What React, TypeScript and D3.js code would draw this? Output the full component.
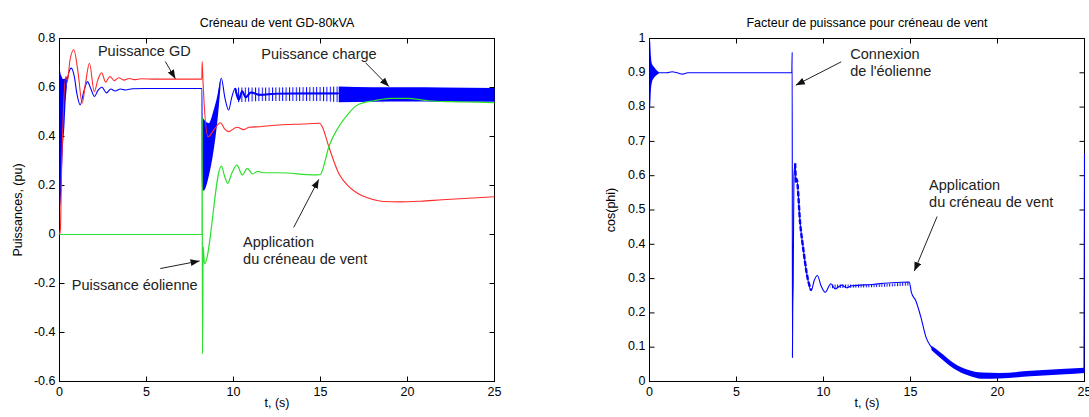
import React from 'react';
import * as d3 from 'd3';

// ---------- ticks ----------
const T_TICKS = [0, 5, 10, 15, 20, 25];
const T_TICK_LABELS = ['0', '5', '10', '15', '20', '25'];
const P_TICKS = [-0.6, -0.4, -0.2, 0, 0.2, 0.4, 0.6, 0.8];
const P_TICK_LABELS = ['-0.6', '-0.4', '-0.2', '0', '0.2', '0.4', '0.6', '0.8'];
const C_TICKS = [0, 0.1, 0.2, 0.3, 0.4, 0.5, 0.6, 0.7, 0.8, 0.9, 1];
const C_TICK_LABELS = ['0', '0.1', '0.2', '0.3', '0.4', '0.5', '0.6', '0.7', '0.8', '0.9', '1'];

// ---------- left chart: powers (pu) vs t (s) ----------
// Puissance GD (red)
const gdPower: [number, number][] = [
  [0, 0], [0.05, 0.02], [0.13, 0.297], [0.22, 0.501], [0.36, 0.645], [0.47, 0.63], [0.59, 0.706],
  [0.82, 0.754], [1.07, 0.66], [1.3, 0.536], [1.5, 0.62], [1.72, 0.699], [2.0, 0.583], [2.2, 0.63],
  [2.42, 0.66], [2.65, 0.622], [2.9, 0.645], [3.15, 0.628], [3.4, 0.64], [3.7, 0.63], [4.0, 0.637],
  [4.3, 0.632], [4.7, 0.636], [5.5, 0.634], [8.18, 0.634], [8.2, 0.706], [8.25, 0.62], [8.54, 0.399],
  [8.9, 0.43], [9.25, 0.456], [9.5, 0.43], [9.72, 0.42], [10.2, 0.438], [10.6, 0.428], [10.9, 0.438],
  [11.5, 0.44], [12.6, 0.447], [14.0, 0.451], [14.95, 0.454], [15.1, 0.44], [15.48, 0.358],
  [16.05, 0.249], [16.63, 0.195], [17.2, 0.165], [17.7, 0.15], [18.6, 0.135], [19.6, 0.133],
  [20.75, 0.136], [22, 0.142], [23.5, 0.148], [25, 0.154],
];
// Puissance charge (blue) main trace
const loadPower: [number, number][] = [
  [0.42, 0.62], [0.55, 0.665], [0.68, 0.679], [0.85, 0.645], [1.0, 0.575], [1.19, 0.529], [1.4, 0.585],
  [1.61, 0.624], [1.8, 0.595], [2.01, 0.563], [2.2, 0.587], [2.44, 0.601], [2.7, 0.578], [2.95, 0.594],
  [3.2, 0.586], [3.5, 0.594], [3.8, 0.59], [4.2, 0.595], [5, 0.596], [8.19, 0.596], [8.2, 0.19],
  [8.6, 0.3], [9.0, 0.48], [9.3, 0.638], [9.5, 0.56], [9.72, 0.508], [9.9, 0.56], [10.1, 0.597],
  [10.3, 0.55], [10.5, 0.585], [10.7, 0.56], [11.0, 0.58], [11.5, 0.57], [12.5, 0.575], [14, 0.576],
  [16, 0.576], [25, 0.573],
];
// envelopes [t, low, high] of the fast oscillations of the load power
const loadBandStart: [number, number, number][] = [
  [0, 0.11, 0.72], [0.05, 0.12, 0.66], [0.12, 0.22, 0.645], [0.2, 0.36, 0.635], [0.28, 0.44, 0.635],
  [0.35, 0.54, 0.64], [0.42, 0.6, 0.645],
];
const loadBandConnect: [number, number, number][] = [
  [8.2, 0.18, 0.48], [8.29, 0.18, 0.47], [8.57, 0.236, 0.454], [8.86, 0.345, 0.508],
  [9.06, 0.454, 0.563], [9.25, 0.6, 0.64],
];
const loadRipple: [number, number, number][] = [
  [10.2, 0.54, 0.6], [12, 0.545, 0.6], [15, 0.545, 0.602], [16.05, 0.54, 0.604],
];
const loadBandSteady: [number, number, number][] = [
  [16.05, 0.54, 0.604], [18, 0.542, 0.601], [20, 0.543, 0.601], [22, 0.542, 0.6], [25, 0.542, 0.598],
];
// Puissance éolienne (green)
const windPower: [number, number][] = [
  [0, 0], [8.19, 0], [8.2, 0.48], [8.215, -0.487], [8.26, -0.05], [8.33, -0.12], [9.3, 0.279],
  [9.5, 0.235], [9.67, 0.209], [9.9, 0.25], [10.2, 0.283], [10.5, 0.243], [10.8, 0.27], [11.1, 0.247],
  [11.4, 0.258], [11.7, 0.252], [12.6, 0.252], [14.7, 0.243], [15.0, 0.245], [15.1, 0.26],
  [15.48, 0.358], [16.05, 0.44], [16.63, 0.495], [17.0, 0.523], [17.6, 0.54], [18.07, 0.546],
  [19.0, 0.556], [20.0, 0.556], [21.2, 0.546], [22.5, 0.542], [24.0, 0.54], [25, 0.538],
];

// ---------- right chart: cos(phi) vs t ----------
const cosPhi: [number, number][] = [
  [0.55, 0.9], [1.0, 0.9], [1.3, 0.903], [1.6, 0.9], [1.9, 0.896], [2.2, 0.9], [8.18, 0.9], [8.2, 0.96],
  [8.215, 0.07], [8.23, 0.2], [8.26, 0.29], [8.3, 0.6], [8.37, 0.636], [8.42, 0.58], [8.46, 0.59],
  [8.66, 0.46], [8.85, 0.382], [9.04, 0.314], [9.29, 0.265], [9.47, 0.295], [9.65, 0.309], [9.85, 0.28],
  [10.1, 0.26], [10.42, 0.285], [10.67, 0.27], [11.05, 0.281], [11.34, 0.273], [11.63, 0.279],
  [12.8, 0.283], [13.9, 0.288], [14.93, 0.29], [15.05, 0.26], [15.3, 0.236], [15.6, 0.187],
  [15.9, 0.128], [16.2, 0.1], [16.67, 0.079], [17.48, 0.046], [18.29, 0.026], [19.1, 0.017],
  [20.1, 0.017], [21.9, 0.023], [23.9, 0.029], [24.97, 0.033], [25, 0.665],
];
const cosPhiBandStart: [number, number, number][] = [
  [0, 0.78, 1.0], [0.04, 0.8, 0.99], [0.08, 0.85, 0.95], [0.15, 0.875, 0.925], [0.25, 0.885, 0.918],
  [0.4, 0.893, 0.908], [0.55, 0.899, 0.901],
];
const cosPhiRipple: [number, number, number][] = [
  [10.4, 0.272, 0.283], [12.8, 0.275, 0.283], [14.93, 0.28, 0.29],
];
const cosPhiBandEnd: [number, number, number][] = [
  [16.2, 0.092, 0.104], [16.67, 0.071, 0.087], [17.48, 0.038, 0.054], [18.29, 0.018, 0.034],
  [19.1, 0.008, 0.026], [20.1, 0.009, 0.025], [21.9, 0.015, 0.031], [23.9, 0.021, 0.037],
  [25, 0.025, 0.04],
];

// ---------- annotations (data coordinates) ----------
type Note = { lines: string[]; tx: number; ty: number; from: [number, number]; to: [number, number] };
const leftNotes: Note[] = [
  { lines: ['Puissance GD'], tx: 2.21, ty: 0.743, from: [6.08, 0.706], to: [6.66, 0.636] },
  { lines: ['Puissance charge'], tx: 11.6, ty: 0.732, from: [17.59, 0.701], to: [18.93, 0.604] },
  { lines: ['Application', 'du créneau de vent'], tx: 10.55, ty: -0.034, from: [13.46, 0.029], to: [14.9, 0.225] },
  { lines: ['Puissance éolienne'], tx: 0.71, ty: -0.211, from: [5.79, -0.139], to: [8.05, -0.108] },
];
const rightNotes: Note[] = [
  { lines: ['Connexion', "de l'éolienne"], tx: 11.54, ty: 0.952, from: [11.02, 0.932], to: [8.41, 0.864] },
  { lines: ['Application', 'du créneau de vent'], tx: 16.07, ty: 0.569, from: [16.53, 0.481], to: [15.22, 0.322] },
];

const FONT = "'Liberation Sans', Arial, Helvetica, sans-serif";
const RED = '#ff2a2a';
const GREEN = '#2ee02e';
const BLUE = '#0000ff';

type Scale = d3.ScaleLinear<number, number>;

function Frame(props: {
  xs: Scale; ys: Scale; yTicks: number[]; yLabels: string[]; title: string; yLabel: string; yLabelX: number;
}) {
  const { xs, ys, yTicks, yLabels, title, yLabel, yLabelX } = props;
  const [x0, x1] = xs.range();
  const [yb, yt] = ys.range();
  const tl = 5;
  return (
    <g fontFamily={FONT} fill="#000">
      <rect x={x0} y={yt} width={x1 - x0} height={yb - yt} fill="#fff" stroke="#000" strokeWidth={1} />
      {T_TICKS.map((t, i) => (
        <g key={'xt' + i}>
          <line x1={xs(t)} x2={xs(t)} y1={yb} y2={yb - tl} stroke="#000" />
          <line x1={xs(t)} x2={xs(t)} y1={yt} y2={yt + tl} stroke="#000" />
          <text x={xs(t)} y={yb + 11} textAnchor="middle" dominantBaseline="middle" fontSize={12.5}>
            {T_TICK_LABELS[i]}
          </text>
        </g>
      ))}
      {yTicks.map((v, i) => (
        <g key={'yt' + i}>
          <line x1={x0} x2={x0 + tl} y1={ys(v)} y2={ys(v)} stroke="#000" />
          <line x1={x1} x2={x1 - tl} y1={ys(v)} y2={ys(v)} stroke="#000" />
          <text x={x0 - 4} y={ys(v)} textAnchor="end" dominantBaseline="middle" fontSize={12.5}>
            {yLabels[i]}
          </text>
        </g>
      ))}
      <text x={(x0 + x1) / 2} y={yt - 15} textAnchor="middle" dominantBaseline="middle" fontSize={12.5}>
        {title}
      </text>
      <text x={(x0 + x1) / 2} y={yb + 22.5} textAnchor="middle" dominantBaseline="middle" fontSize={12.5}>
        t, (s)
      </text>
      <text
        transform={`translate(${yLabelX},${(yb + yt) / 2}) rotate(-90)`}
        textAnchor="middle"
        dominantBaseline="middle"
        fontSize={12.5}
      >
        {yLabel}
      </text>
    </g>
  );
}

function Notes({ notes, xs, ys }: { notes: Note[]; xs: Scale; ys: Scale }) {
  return (
    <g fontFamily={FONT} fontSize={14.5} fill="#222">
      {notes.map((n, i) => (
        <g key={i}>
          {n.lines.map((l, j) => (
            <text key={j} x={xs(n.tx)} y={ys(n.ty) + j * 17} dominantBaseline="middle">
              {l}
            </text>
          ))}
          <line
            x1={xs(n.from[0])}
            y1={ys(n.from[1])}
            x2={xs(n.to[0])}
            y2={ys(n.to[1])}
            stroke="#222"
            strokeWidth={1}
            markerEnd="url(#arrowHead)"
          />
        </g>
      ))}
    </g>
  );
}

export default function App() {
  const xL = d3.scaleLinear().domain([0, 25]).range([59.5, 494.5]);
  const yL = d3.scaleLinear().domain([-0.6, 0.8]).range([381.5, 38.5]);
  const xR = d3.scaleLinear().domain([0, 25]).range([649.5, 1084.5]);
  const yR = d3.scaleLinear().domain([0, 1]).range([381.5, 38.5]);

  const curve = d3.curveMonotoneX;
  const lineL = d3.line<[number, number]>().x(d => xL(d[0])).y(d => yL(d[1])).curve(curve);
  const areaL = d3.area<[number, number, number]>().x(d => xL(d[0])).y0(d => yL(d[1])).y1(d => yL(d[2])).curve(curve);
  const lineR = d3.line<[number, number]>().x(d => xR(d[0])).y(d => yR(d[1])).curve(curve);
  const areaR = d3.area<[number, number, number]>().x(d => xR(d[0])).y0(d => yR(d[1])).y1(d => yR(d[2])).curve(curve);

  const loadThick = loadPower.filter(d => d[0] >= 10.1 && d[0] <= 16);
  const cosThick = cosPhi.filter(d => d[0] >= 8.37 && d[0] <= 9.3);

  return (
    <div style={{ position: 'absolute', left: 0, top: 0 }}>
      <svg width={1089} height={417} style={{ display: 'block', background: '#fff' }}>
        <defs>
          <marker id="arrowHead" markerUnits="userSpaceOnUse" markerWidth={10} markerHeight={8} refX={9} refY={4} orient="auto">
            <path d="M0,0.5 L9,4 L0,7.5 z" fill="#111" />
          </marker>
          <pattern id="vstripe" width={3.4} height={20} patternUnits="userSpaceOnUse">
            <rect x={0} y={0} width={1} height={20} fill={BLUE} />
          </pattern>
          <pattern id="vstripeFine" width={2.6} height={20} patternUnits="userSpaceOnUse">
            <rect x={0} y={0} width={1} height={20} fill={BLUE} />
          </pattern>
        </defs>
        <rect x={0} y={0} width={1089} height={417} fill="#fff" />

        {/* Left chart */}
        <Frame
          xs={xL}
          ys={yL}
          yTicks={P_TICKS}
          yLabels={P_TICK_LABELS}
          title="Créneau de vent GD-80kVA"
          yLabel="Puissances, (pu)"
          yLabelX={18.5}
        />
        <g>
          <path d={areaL(loadBandStart) || ''} fill={BLUE} />
          <path d={areaL(loadBandConnect) || ''} fill={BLUE} />
          <path d={areaL(loadRipple) || ''} fill="url(#vstripe)" />
          <path d={areaL(loadBandSteady) || ''} fill={BLUE} />
          <path d={lineL(loadPower) || ''} fill="none" stroke={BLUE} strokeWidth={1.1} />
          <path d={lineL(loadThick) || ''} fill="none" stroke={BLUE} strokeWidth={2} />
          <path d={lineL(gdPower) || ''} fill="none" stroke={RED} strokeWidth={1.1} />
          <path d={lineL(windPower) || ''} fill="none" stroke={GREEN} strokeWidth={1.2} />
        </g>
        <Notes notes={leftNotes} xs={xL} ys={yL} />

        {/* Right chart */}
        <Frame
          xs={xR}
          ys={yR}
          yTicks={C_TICKS}
          yLabels={C_TICK_LABELS}
          title="Facteur de puissance pour créneau de vent"
          yLabel="cos(phi)"
          yLabelX={612}
        />
        <g>
          <path d={areaR(cosPhiBandStart) || ''} fill={BLUE} />
          <path d={areaR(cosPhiRipple) || ''} fill="url(#vstripeFine)" />
          <path d={areaR(cosPhiBandEnd) || ''} fill={BLUE} />
          <path d={lineR(cosPhi) || ''} fill="none" stroke={BLUE} strokeWidth={1.1} />
          <path d={lineR(cosThick) || ''} fill="none" stroke={BLUE} strokeWidth={2.4} strokeDasharray="5,2" />
        </g>
        <Notes notes={rightNotes} xs={xR} ys={yR} />
      </svg>
    </div>
  );
}
